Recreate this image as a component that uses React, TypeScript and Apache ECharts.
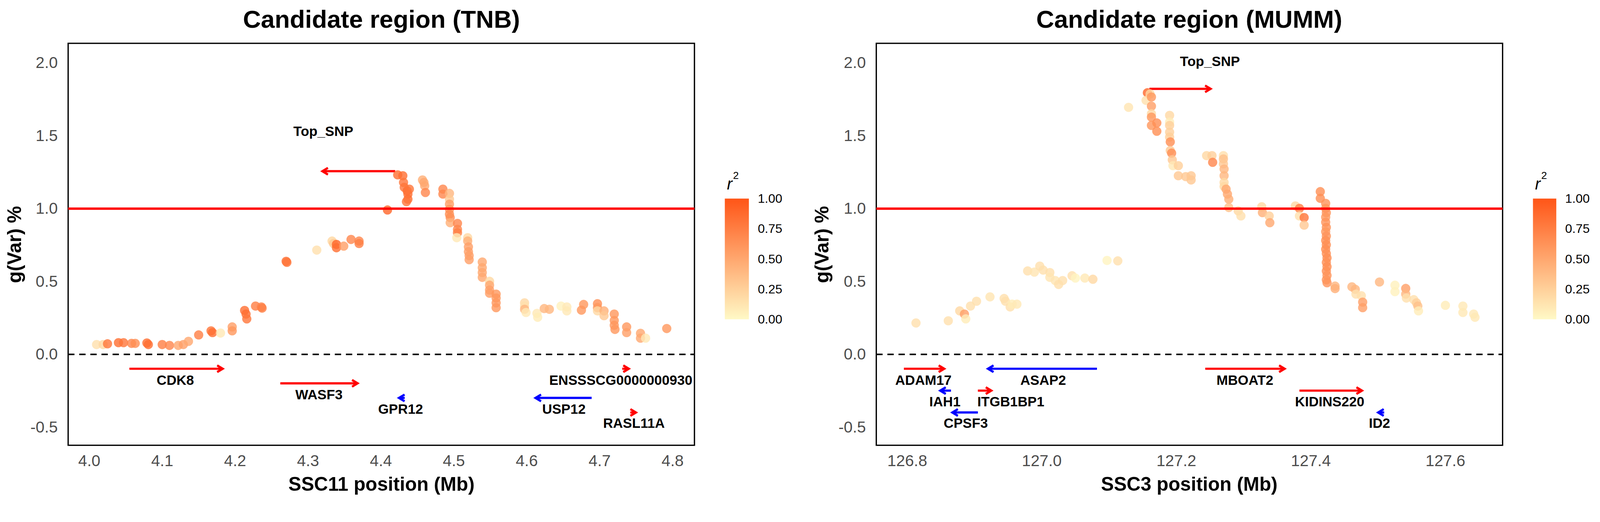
import React, { useEffect, useRef } from "react";
import * as echarts from "echarts";

const FONT = "Liberation Sans";
const LOW = "#FFF9C6";
const HIGH = "#FF5517";
const REF_W = 4320;
const REF_H = 1336;

// ---------- TNB (left panel) ----------
const tnbPos = [4.010, 4.019, 4.025, 4.040, 4.047, 4.058, 4.063, 4.079, 4.081, 4.100, 4.110, 4.122, 4.129, 4.136, 4.150, 4.167, 4.169, 4.180, 4.196, 4.196, 4.213, 4.215, 4.216, 4.228, 4.236, 4.237, 4.270, 4.271, 4.312, 4.333, 4.335, 4.339, 4.339, 4.349, 4.359, 4.370, 4.370, 4.409, 4.423, 4.430, 4.431, 4.432, 4.436, 4.437, 4.439, 4.437, 4.435, 4.457, 4.459, 4.460, 4.461, 4.485, 4.485, 4.494, 4.494, 4.494, 4.494, 4.494, 4.495, 4.495, 4.505, 4.505, 4.505, 4.504, 4.519, 4.519, 4.520, 4.520, 4.521, 4.521, 4.539, 4.539, 4.539, 4.539, 4.549, 4.549, 4.549, 4.549, 4.558, 4.558, 4.558, 4.558, 4.597, 4.597, 4.597, 4.599, 4.614, 4.615, 4.624, 4.631, 4.647, 4.655, 4.655, 4.675, 4.678, 4.697, 4.697, 4.697, 4.706, 4.706, 4.720, 4.720, 4.720, 4.721, 4.737, 4.737, 4.756, 4.756, 4.763, 4.792];
const tnbVar = [0.066, 0.066, 0.071, 0.079, 0.079, 0.074, 0.074, 0.077, 0.066, 0.066, 0.060, 0.060, 0.066, 0.088, 0.132, 0.160, 0.148, 0.145, 0.187, 0.160, 0.300, 0.275, 0.242, 0.330, 0.324, 0.316, 0.637, 0.630, 0.714, 0.776, 0.759, 0.753, 0.730, 0.741, 0.787, 0.776, 0.759, 0.989, 1.230, 1.224, 1.178, 1.144, 1.120, 1.098, 1.132, 1.063, 1.046, 1.195, 1.178, 1.155, 1.109, 1.132, 1.098, 1.103, 1.063, 1.029, 0.994, 0.960, 0.937, 0.902, 0.897, 0.856, 0.833, 0.799, 0.799, 0.776, 0.736, 0.703, 0.676, 0.648, 0.632, 0.593, 0.560, 0.527, 0.500, 0.473, 0.440, 0.418, 0.412, 0.385, 0.352, 0.319, 0.352, 0.330, 0.308, 0.286, 0.280, 0.253, 0.313, 0.308, 0.330, 0.324, 0.297, 0.302, 0.341, 0.346, 0.319, 0.297, 0.297, 0.264, 0.275, 0.231, 0.198, 0.170, 0.187, 0.148, 0.143, 0.110, 0.110, 0.176];
const tnbR2 = [0.15, 0.2, 0.8, 0.85, 0.8, 0.7, 0.65, 0.85, 0.85, 0.75, 0.7, 0.5, 0.55, 0.5, 0.75, 0.8, 0.85, 0.1, 0.55, 0.6, 0.85, 0.85, 0.8, 0.75, 0.7, 0.75, 0.85, 0.8, 0.15, 0.2, 0.3, 0.9, 0.85, 0.55, 0.7, 0.7, 0.75, 0.9, 0.85, 0.85, 0.8, 0.8, 0.85, 0.85, 0.8, 0.85, 0.8, 0.45, 0.5, 0.5, 0.7, 0.7, 0.7, 0.4, 0.3, 0.55, 0.6, 0.65, 0.65, 0.45, 0.7, 0.7, 0.75, 0.1, 0.2, 0.45, 0.55, 0.55, 0.55, 0.55, 0.5, 0.5, 0.5, 0.5, 0.2, 0.5, 0.55, 0.55, 0.6, 0.6, 0.6, 0.6, 0.2, 0.15, 0.4, 0.1, 0.1, 0.08, 0.4, 0.4, 0.05, 0.1, 0.1, 0.6, 0.6, 0.65, 0.6, 0.2, 0.45, 0.3, 0.6, 0.6, 0.6, 0.6, 0.6, 0.55, 0.5, 0.5, 0.1, 0.6];

const tnbGenes = ["CDK8", "WASF3", "GPR12", "USP12", "ENSSSCG0000000930", "RASL11A"];
const tnbGeneTail = [4.055, 4.262, 4.4326, 4.689, 4.731, 4.742];
const tnbGeneHead = [4.183, 4.368, 4.4248, 4.612, 4.740, 4.7498];
const tnbGeneY = [-0.1, -0.2, -0.3, -0.3, -0.1, -0.4];
const tnbLabelX = [4.118, 4.315, 4.427, 4.651, 4.729, 4.747];
const tnbLabelY = [-0.176, -0.275, -0.374, -0.374, -0.176, -0.473];
const tnbGeneColor = ["#FF0000", "#FF0000", "#0000FF", "#0000FF", "#FF0000", "#FF0000"];

const tnbSnpTail = [4.4195];
const tnbSnpHead = [4.3197];
const tnbSnpY = [1.255];
const tnbSnpLabelX = [4.321];
const tnbSnpLabelY = [1.529];

const tnbXTicks = [4.0, 4.1, 4.2, 4.3, 4.4, 4.5, 4.6, 4.7, 4.8];

// ---------- MUMM (right panel) ----------
const mummPos = [126.813, 126.861, 126.878, 126.885, 126.887, 126.894, 126.903, 126.923, 126.944, 126.946, 126.953, 126.956, 126.963, 126.979, 126.989, 126.997, 127.002, 127.012, 127.012, 127.020, 127.025, 127.031, 127.045, 127.050, 127.064, 127.076, 127.097, 127.113, 127.129, 127.157, 127.161, 127.155, 127.163, 127.163, 127.163, 127.163, 127.163, 127.171, 127.171, 127.190, 127.190, 127.190, 127.190, 127.190, 127.191, 127.191, 127.193, 127.194, 127.195, 127.203, 127.203, 127.214, 127.222, 127.222, 127.245, 127.253, 127.254, 127.270, 127.270, 127.270, 127.271, 127.271, 127.271, 127.271, 127.274, 127.276, 127.278, 127.278, 127.292, 127.296, 127.327, 127.328, 127.338, 127.339, 127.377, 127.383, 127.383, 127.390, 127.390, 127.414, 127.414, 127.422, 127.422, 127.423, 127.422, 127.422, 127.423, 127.422, 127.423, 127.422, 127.423, 127.422, 127.423, 127.424, 127.423, 127.424, 127.423, 127.424, 127.423, 127.424, 127.436, 127.436, 127.461, 127.466, 127.467, 127.475, 127.477, 127.477, 127.502, 127.525, 127.525, 127.541, 127.541, 127.542, 127.553, 127.557, 127.559, 127.560, 127.600, 127.626, 127.626, 127.642, 127.644];
const mummVar = [0.214, 0.229, 0.297, 0.275, 0.242, 0.330, 0.363, 0.393, 0.382, 0.363, 0.324, 0.343, 0.343, 0.571, 0.563, 0.604, 0.577, 0.560, 0.527, 0.505, 0.478, 0.505, 0.538, 0.522, 0.522, 0.514, 0.643, 0.640, 1.693, 1.793, 1.785, 1.741, 1.764, 1.701, 1.649, 1.626, 1.569, 1.586, 1.529, 1.638, 1.592, 1.569, 1.523, 1.489, 1.456, 1.397, 1.379, 1.333, 1.293, 1.293, 1.224, 1.218, 1.224, 1.195, 1.362, 1.362, 1.316, 1.362, 1.339, 1.305, 1.270, 1.224, 1.178, 1.150, 1.132, 1.098, 1.063, 1.006, 0.983, 0.948, 1.011, 0.971, 0.948, 0.902, 1.017, 1.000, 0.948, 0.937, 0.885, 1.115, 1.069, 1.034, 1.000, 0.970, 0.940, 0.905, 0.870, 0.840, 0.810, 0.780, 0.750, 0.720, 0.690, 0.660, 0.630, 0.600, 0.570, 0.540, 0.510, 0.490, 0.467, 0.450, 0.462, 0.445, 0.412, 0.401, 0.357, 0.319, 0.495, 0.473, 0.429, 0.451, 0.412, 0.385, 0.374, 0.352, 0.330, 0.297, 0.335, 0.330, 0.286, 0.275, 0.253];
const mummR2 = [0.15, 0.15, 0.2, 0.55, 0.08, 0.15, 0.15, 0.12, 0.15, 0.15, 0.15, 0.08, 0.1, 0.15, 0.12, 0.15, 0.15, 0.15, 0.12, 0.12, 0.15, 0.15, 0.15, 0.03, 0.1, 0.2, 0.03, 0.15, 0.12, 0.9, 0.2, 0.15, 0.6, 0.55, 0.2, 0.6, 0.6, 0.65, 0.65, 0.2, 0.08, 0.25, 0.25, 0.25, 0.65, 0.3, 0.65, 0.3, 0.1, 0.25, 0.3, 0.3, 0.3, 0.3, 0.2, 0.25, 0.7, 0.15, 0.35, 0.3, 0.4, 0.4, 0.2, 0.2, 0.5, 0.5, 0.45, 0.35, 0.2, 0.15, 0.2, 0.45, 0.25, 0.5, 0.2, 0.75, 0.15, 0.8, 0.3, 0.65, 0.65, 0.62, 0.6, 0.62, 0.6, 0.62, 0.63, 0.6, 0.62, 0.65, 0.65, 0.66, 0.65, 0.66, 0.65, 0.66, 0.65, 0.62, 0.62, 0.62, 0.4, 0.45, 0.4, 0.4, 0.15, 0.15, 0.55, 0.55, 0.4, 0.05, 0.05, 0.55, 0.4, 0.15, 0.15, 0.25, 0.35, 0.08, 0.08, 0.1, 0.1, 0.1, 0.1];

const mummGenes = ["ADAM17", "ASAP2", "IAH1", "ITGB1BP1", "CPSF3", "MBOAT2", "KIDINS220", "ID2"];
const mummGeneTail = [126.795, 127.082, 126.865, 126.905, 126.905, 127.243, 127.383, 127.509];
const mummGeneHead = [126.855, 126.920, 126.849, 126.925, 126.867, 127.361, 127.476, 127.500];
const mummGeneY = [-0.1, -0.1, -0.25, -0.25, -0.4, -0.1, -0.25, -0.4];
const mummLabelX = [126.824, 127.002, 126.856, 126.954, 126.887, 127.302, 127.428, 127.502];
const mummLabelY = [-0.176, -0.176, -0.324, -0.324, -0.473, -0.176, -0.324, -0.473];
const mummGeneColor = ["#FF0000", "#0000FF", "#0000FF", "#FF0000", "#0000FF", "#FF0000", "#FF0000", "#0000FF"];

const mummSnpTail = [127.16];
const mummSnpHead = [127.251];
const mummSnpY = [1.82];
const mummSnpLabelX = [127.25];
const mummSnpLabelY = [2.011];

const mummXTicks = [126.8, 127.0, 127.2, 127.4, 127.6];

const yTicks = [-0.5, 0.0, 0.5, 1.0, 1.5, 2.0];
const r2Ticks = [0, 0.25, 0.5, 0.75, 1];

function makeArrowRenderer(names: string[], colors: string[], S: number) {
  return (params: any, api: any) => {
    const t = api.coord([api.value(0), api.value(2)]);
    const h = api.coord([api.value(1), api.value(2)]);
    const lab = api.coord([api.value(3), api.value(4)]);
    const dir = h[0] >= t[0] ? 1 : -1;
    const color = colors[params.dataIndex];
    const back = 15 * S;
    const half = 9 * S;
    return {
      type: "group",
      children: [
        {
          type: "line",
          shape: { x1: t[0], y1: t[1], x2: h[0], y2: h[1] },
          style: { stroke: color, lineWidth: 6 * S },
        },
        {
          type: "polyline",
          shape: {
            points: [
              [h[0] - dir * back, h[1] - half],
              [h[0], h[1]],
              [h[0] - dir * back, h[1] + half],
            ],
          },
          style: { stroke: color, lineWidth: 6 * S, fill: null, lineJoin: "miter" },
        },
        {
          type: "text",
          x: lab[0],
          y: lab[1],
          style: {
            text: names[params.dataIndex],
            fill: "#000",
            fontSize: 37 * S,
            fontWeight: "bold",
            fontFamily: FONT,
            align: "center",
            verticalAlign: "middle",
          },
        },
      ],
    };
  };
}

function arrowData(tail: number[], head: number[], y: number[], lx: number[], ly: number[]) {
  return tail.map((v, i) => [v, head[i], y[i], lx[i], ly[i]]);
}

function buildOption(S: number): any {
  const p = (v: number) => v * S;

  const tickLabel = { color: "#4D4D4D", fontSize: p(43), fontFamily: FONT };

  const plotX = (idx: number, min: number, max: number, ticks: number[]) => ({
    type: "value",
    gridIndex: idx,
    min,
    max,
    axisLine: { show: false },
    axisTick: { show: false },
    splitLine: { show: false },
    axisLabel: { ...tickLabel, margin: p(20), customValues: ticks, formatter: (v: number) => v.toFixed(1) },
  });

  const plotY = (idx: number) => ({
    type: "value",
    gridIndex: idx,
    min: -0.625,
    max: 2.132,
    axisLine: { show: false },
    axisTick: { show: false },
    splitLine: { show: false },
    axisLabel: { ...tickLabel, margin: p(28), customValues: yTicks, formatter: (v: number) => v.toFixed(1) },
  });

  const barY = (idx: number, pos: string, labels: boolean) => ({
    type: "value",
    gridIndex: idx,
    position: pos,
    min: 0,
    max: 1,
    axisLine: { show: false },
    splitLine: { show: false },
    axisTick: { show: true, inside: true, length: p(12), customValues: r2Ticks, lineStyle: { color: "#FFFFFF", width: p(2) } },
    axisLabel: {
      show: labels,
      customValues: r2Ticks,
      color: "#000",
      fontSize: p(34),
      fontFamily: FONT,
      margin: p(24),
      formatter: (v: number) => v.toFixed(2),
    },
  });

  const refLines = {
    symbol: ["none", "none"],
    silent: true,
    label: { show: false },
    data: [
      { yAxis: 1, lineStyle: { color: "#FF0000", width: p(6.5), type: "solid" } },
      { yAxis: 0, lineStyle: { color: "#000000", width: p(4), type: [p(17), p(13)] } },
    ],
  };

  const gradient = () =>
    new echarts.graphic.LinearGradient(0, 0, 0, 1, [
      { offset: 0, color: HIGH },
      { offset: 1, color: LOW },
    ]);

  const txt = (text: string, size: number, extra: any = {}) => ({
    text,
    fill: "#000",
    fontSize: p(size),
    fontWeight: "bold",
    fontFamily: FONT,
    align: "center",
    verticalAlign: "middle",
    ...extra,
  });

  const gridBox = (left: number) => ({
    left: p(left),
    top: p(117),
    width: p(1691),
    height: p(1085),
    show: true,
    borderColor: "#000",
    borderWidth: p(3.5),
    backgroundColor: "transparent",
  });

  return {
    animation: false,
    backgroundColor: "#FFFFFF",
    grid: [
      gridBox(184),
      gridBox(2366),
      { left: p(1957), top: p(536), width: p(65), height: p(326) },
      { left: p(4139), top: p(536), width: p(63), height: p(326) },
    ],
    xAxis: [
      plotX(0, 3.971, 4.83, tnbXTicks),
      plotX(1, 126.754, 127.685, mummXTicks),
      { type: "category", gridIndex: 2, data: ["r2"], show: false },
      { type: "category", gridIndex: 3, data: ["r2"], show: false },
    ],
    yAxis: [plotY(0), plotY(1), barY(2, "right", true), barY(2, "left", false), barY(3, "right", true), barY(3, "left", false)],
    visualMap: {
      type: "continuous",
      show: false,
      min: 0,
      max: 1,
      dimension: 2,
      seriesIndex: [0, 1],
      inRange: { color: [LOW, HIGH] },
    },
    series: [
      {
        type: "scatter",
        xAxisIndex: 0,
        yAxisIndex: 0,
        symbolSize: p(25),
        itemStyle: { opacity: 0.8 },
        data: tnbPos.map((x, i) => [x, tnbVar[i], tnbR2[i]]),
        markLine: refLines,
      },
      {
        type: "scatter",
        xAxisIndex: 1,
        yAxisIndex: 1,
        symbolSize: p(25),
        itemStyle: { opacity: 0.8 },
        data: mummPos.map((x, i) => [x, mummVar[i], mummR2[i]]),
        markLine: refLines,
      },
      {
        type: "custom",
        xAxisIndex: 0,
        yAxisIndex: 0,
        silent: true,
        encode: { x: [0, 1, 3], y: [2, 4] },
        renderItem: makeArrowRenderer(tnbGenes, tnbGeneColor, S),
        data: arrowData(tnbGeneTail, tnbGeneHead, tnbGeneY, tnbLabelX, tnbLabelY),
      },
      {
        type: "custom",
        xAxisIndex: 1,
        yAxisIndex: 1,
        silent: true,
        encode: { x: [0, 1, 3], y: [2, 4] },
        renderItem: makeArrowRenderer(mummGenes, mummGeneColor, S),
        data: arrowData(mummGeneTail, mummGeneHead, mummGeneY, mummLabelX, mummLabelY),
      },
      {
        type: "custom",
        xAxisIndex: 0,
        yAxisIndex: 0,
        silent: true,
        encode: { x: [0, 1, 3], y: [2, 4] },
        renderItem: makeArrowRenderer(["Top_SNP"], ["#FF0000"], S),
        data: arrowData(tnbSnpTail, tnbSnpHead, tnbSnpY, tnbSnpLabelX, tnbSnpLabelY),
      },
      {
        type: "custom",
        xAxisIndex: 1,
        yAxisIndex: 1,
        silent: true,
        encode: { x: [0, 1, 3], y: [2, 4] },
        renderItem: makeArrowRenderer(["Top_SNP"], ["#FF0000"], S),
        data: arrowData(mummSnpTail, mummSnpHead, mummSnpY, mummSnpLabelX, mummSnpLabelY),
      },
      { type: "bar", xAxisIndex: 2, yAxisIndex: 2, barWidth: "100%", silent: true, itemStyle: { color: gradient() }, data: [1], z: 1 },
      { type: "bar", xAxisIndex: 3, yAxisIndex: 4, barWidth: "100%", silent: true, itemStyle: { color: gradient() }, data: [1], z: 1 },
    ],
    graphic: [
      { type: "text", x: p(1030), y: p(51), style: txt("Candidate region (TNB)", 67) },
      { type: "text", x: p(3211), y: p(51), style: txt("Candidate region (MUMM)", 67) },
      { type: "text", x: p(1030), y: p(1306), style: txt("SSC11 position (Mb)", 52) },
      { type: "text", x: p(3211), y: p(1306), style: txt("SSC3 position (Mb)", 52) },
      { type: "text", x: p(39), y: p(660), rotation: Math.PI / 2, style: txt("g(Var) %", 52) },
      { type: "text", x: p(2219), y: p(660), rotation: Math.PI / 2, style: txt("g(Var) %", 52) },
      { type: "text", x: p(1970), y: p(496), style: txt("r", 44, { fontWeight: "normal", fontStyle: "italic" }) },
      { type: "text", x: p(1987), y: p(474), style: txt("2", 28, { fontWeight: "normal" }) },
      { type: "text", x: p(4152), y: p(496), style: txt("r", 44, { fontWeight: "normal", fontStyle: "italic" }) },
      { type: "text", x: p(4169), y: p(474), style: txt("2", 28, { fontWeight: "normal" }) },
    ],
  };
}

export default function App() {
  const ref = useRef<HTMLDivElement>(null);

  useEffect(() => {
    document.body.style.margin = "0";
    document.body.style.overflow = "hidden";
    const el = ref.current;
    if (!el) return;
    const vw = window.innerWidth || REF_W;
    const vh = window.innerHeight || REF_H;
    const S = Math.min(vw / REF_W, vh / REF_H);
    el.style.width = `${REF_W * S}px`;
    el.style.height = `${REF_H * S}px`;
    const chart = echarts.init(el, undefined, { renderer: "svg" });
    chart.setOption(buildOption(S));
    return () => {
      chart.dispose();
    };
  }, []);

  return <div ref={ref} style={{ width: REF_W, height: REF_H }} />;
}
